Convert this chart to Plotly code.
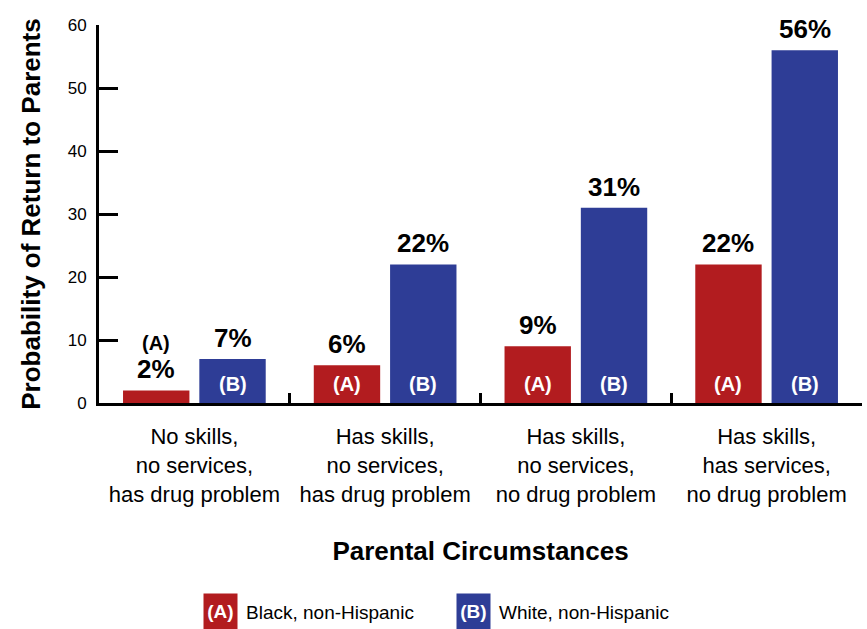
import plotly.graph_objects as go

categories = [
    "No skills,<br>no services,<br>has drug problem",
    "Has skills,<br>no services,<br>has drug problem",
    "Has skills,<br>no services,<br>no drug problem",
    "Has skills,<br>has services,<br>no drug problem",
]
black_values = [2, 6, 9, 22]
white_values = [7, 22, 31, 56]
series_names = ["Black, non-Hispanic", "White, non-Hispanic"]
series_tags = ["(A)", "(B)"]
y_ticks = [0, 10, 20, 30, 40, 50, 60]

RED = "#B21C1F"
BLUE = "#2E3D96"
FONT = "Liberation Sans, Arial, Helvetica, sans-serif"

W, H = 867, 629
ML, MR, MT, MB = 99, 5, 25, 226
PW, PH = W - ML - MR, H - MT - MB

def paper_x(px):
    return (px - ML) / PW

def paper_y(py):
    return (H - MB - py) / PH

BARGAP = 0.2
GROUPGAP = 0.13
slot_off = (1 - BARGAP) / 4  # half slot width in category units

fig = go.Figure()
fig.add_trace(go.Bar(x=categories, y=black_values, name=series_names[0],
                     marker=dict(color=RED, line=dict(width=0)), showlegend=False))
fig.add_trace(go.Bar(x=categories, y=white_values, name=series_names[1],
                     marker=dict(color=BLUE, line=dict(width=0)), showlegend=False))

annotations = []
for s, (vals, tag) in enumerate(zip([black_values, white_values], series_tags)):
    sign = -1 if s == 0 else 1
    for i, v in enumerate(vals):
        xpos = i + sign * slot_off
        annotations.append(dict(x=xpos, y=v, xref="x", yref="y", text=f"{v}%",
                                showarrow=False, yanchor="bottom", yshift=4,
                                font=dict(family=FONT, size=26, color="black", weight="bold")))
        if v >= 5:
            annotations.append(dict(x=xpos, y=0, xref="x", yref="y", text=tag,
                                    showarrow=False, yanchor="bottom", yshift=6,
                                    font=dict(family=FONT, size=20, color="white", weight="bold")))
        else:
            annotations.append(dict(x=xpos, y=v, xref="x", yref="y", text=tag,
                                    showarrow=False, yanchor="bottom", yshift=34,
                                    font=dict(family=FONT, size=20, color="black", weight="bold")))

# legend
legend_items = [(203, RED), (456, BLUE)]
for (bx, col), tag, name in zip(legend_items, series_tags, series_names):
    annotations.append(dict(x=paper_x(bx), y=paper_y(611.5), xref="paper", yref="paper",
                            text=tag, showarrow=False, xanchor="left", yanchor="middle",
                            bgcolor=col, width=33, height=35, borderpad=0,
                            font=dict(family=FONT, size=19, color="white", weight="bold")))
    annotations.append(dict(x=paper_x(bx + 41), y=paper_y(612), xref="paper", yref="paper",
                            text=name, showarrow=False, xanchor="left", yanchor="middle",
                            font=dict(family=FONT, size=19, color="black")))

fig.update_layout(
    width=W, height=H,
    margin=dict(l=ML, r=MR, t=MT, b=MB, autoexpand=False),
    paper_bgcolor="white", plot_bgcolor="white",
    barmode="group", bargap=BARGAP, bargroupgap=GROUPGAP,
    font=dict(family=FONT, color="black"),
    annotations=annotations,
    xaxis=dict(
        type="category", tickson="boundaries", ticks="inside", ticklen=10, tickwidth=2.5,
        tickcolor="black", showline=True, linecolor="black", linewidth=3,
        showgrid=False, zeroline=False, range=[-0.5, 3.5], tickangle=0,
        tickfont=dict(family=FONT, size=22, color="black"),
        ticklabelstandoff=12,
        title=dict(text="Parental Circumstances", standoff=37,
                   font=dict(family=FONT, size=26, color="black", weight="bold")),
    ),
    yaxis=dict(
        range=[0, 60], tickvals=y_ticks, ticks="inside", ticklen=19, tickwidth=2.5,
        tickcolor="black", showline=True, linecolor="black", linewidth=3,
        showgrid=False, zeroline=False,
        tickfont=dict(family=FONT, size=17, color="black"),
        ticklabelstandoff=6,
        title=dict(text="Probability of Return to Parents", standoff=20,
                   font=dict(family=FONT, size=26, color="black", weight="bold")),
    ),
)

fig.write_html("out.html")
